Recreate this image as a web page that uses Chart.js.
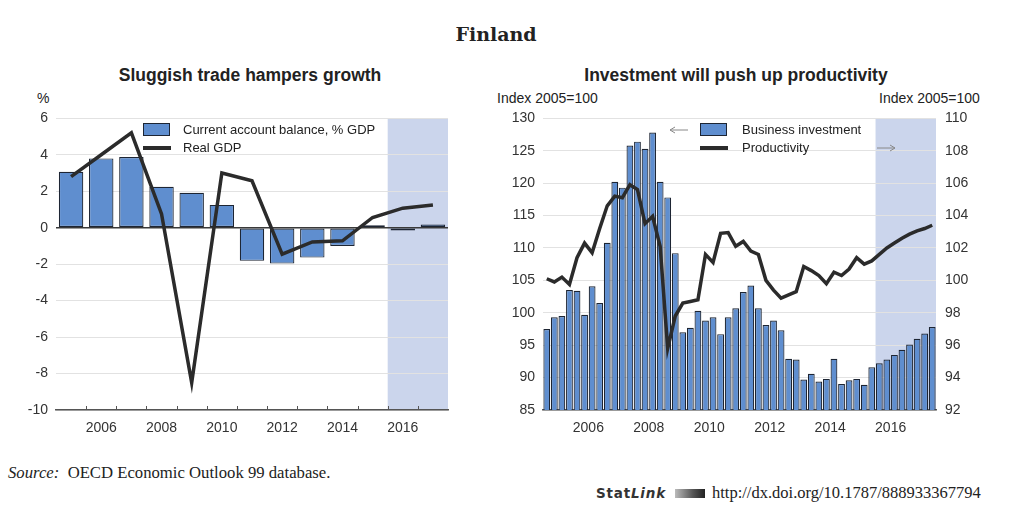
<!DOCTYPE html>
<html>
<head>
<meta charset="utf-8">
<script src="https://cdn.jsdelivr.net/npm/chart.js@4.4.0/dist/chart.umd.min.js"></script>
<style>
  body { margin: 0; width: 1020px; height: 523px; background: #fff; position: relative; overflow: hidden;
         font-family: "Liberation Sans", Arial, sans-serif; color: #222; }
  .abs { position: absolute; white-space: nowrap; }
  .panel-title { font-weight: bold; font-size: 17.5px; line-height: 20px; top: 65px; transform: translateX(-50%); }
  .unit { font-size: 14px; line-height: 16px; top: 90px; color: #222; }
  .legend-text { font-size: 13px; line-height: 16px; color: #222; }
  .swatch-box { position: absolute; width: 27px; height: 13px; background: #5f8ecf; border: 1px solid #1d2533; box-sizing: border-box; }
  .swatch-line { position: absolute; width: 28px; height: 4px; background: #2b2b2b; }
  svg.arrow { position: absolute; }
  canvas { position: absolute; }
</style>
</head>
<body>

<div class="abs" style="left:496px; top:21px; transform:translateX(-50%); font-family:'DejaVu Serif', serif; font-weight:bold; font-size:19px; line-height:26px;">Finland</div>

<div class="abs panel-title" style="left:250px;">Sluggish trade hampers growth</div>
<div class="abs panel-title" style="left:736px;">Investment will push up productivity</div>

<div class="abs unit" style="left:37px;">%</div>
<div class="abs unit" style="left:497px;">Index 2005=100</div>
<div class="abs unit" style="left:879px;">Index 2005=100</div>

<canvas id="tradeChart" width="470" height="350" style="left:0; top:90px;"></canvas>
<canvas id="investChart" width="510" height="350" style="left:490px; top:90px;"></canvas>

<!-- legends -->
<div class="swatch-box" style="left:143px; top:123px;"></div>
<div class="abs legend-text" style="left:183px; top:122px;">Current account balance, % GDP</div>
<div class="swatch-line" style="left:143px; top:146px;"></div>
<div class="abs legend-text" style="left:183px; top:140px;">Real GDP</div>

<svg class="arrow" width="20" height="8" style="left:669px; top:126px;">
  <path d="M1 4 H19 M1 4 L6 1 M1 4 L6 7" stroke="#888" stroke-width="1" fill="none"/>
</svg>
<div class="swatch-box" style="left:700px; top:123px;"></div>
<div class="abs legend-text" style="left:742px; top:122px;">Business investment</div>
<div class="swatch-line" style="left:700px; top:146px;"></div>
<div class="abs legend-text" style="left:742px; top:140px;">Productivity</div>
<svg class="arrow" width="20" height="8" style="left:876px; top:144px;">
  <path d="M1 4 H19 M19 4 L14 1 M19 4 L14 7" stroke="#888" stroke-width="1" fill="none"/>
</svg>

<div class="abs" style="left:8px; top:463px; font-family:'Liberation Serif', serif; font-size:16.7px; line-height:20px;"><i>Source:</i>&nbsp; OECD Economic Outlook 99 database.</div>
<div class="abs" style="left:596px; top:484px; font-family:'DejaVu Sans', sans-serif; font-size:13.5px; letter-spacing:0.8px; line-height:18px; font-weight:bold; color:#333;">Stat<i>Link</i></div>
<div class="abs" style="left:675px; top:489px; width:30px; height:9px; background:linear-gradient(90deg,#bbb,#555 60%,#222);"></div>
<div class="abs" style="left:712px; top:483px; font-family:'Liberation Serif', serif; font-size:16.5px; line-height:20px; color:#222;">http://dx.doi.org/10.1787/888933367794</div>

<script>
// ---------- left panel: Sluggish trade hampers growth ----------
const years = ['2005', '2006', '2007', '2008', '2009', '2010', '2011', '2012', '2013', '2014', '2015', '2016', '2017'];
const currentAccount = [3.07, 3.8, 3.88, 2.24, 1.92, 1.25, -1.82, -1.97, -1.64, -1.0, 0.14, -0.15, 0.18];
const realGdp = [2.8, 4.0, 5.2, 0.75, -8.5, 3.0, 2.57, -1.45, -0.78, -0.72, 0.56, 1.07, 1.24];
const projectionStart = '2016';

// ---------- right panel: Investment will push up productivity ----------
const quarters = years.flatMap(y => ['Q1', 'Q2', 'Q3', 'Q4'].map(q => y + '-' + q));
const businessInvestment = [
  97.5, 99.3, 99.5, 103.5, 103.4, 99.7, 104.1, 101.5,
  110.8, 120.2, 119.3, 125.8, 126.4, 125.3, 127.8, 120.2,
  117.8, 109.2, 97.0, 97.7, 100.3, 98.8, 99.3, 96.7,
  99.3, 100.7, 103.2, 104.2, 100.7, 98.1, 98.8, 97.3,
  92.9, 92.8, 89.7, 90.6, 89.4, 89.8, 92.9, 89.0,
  89.6, 89.8, 88.9, 91.6, 92.2, 92.8, 93.5, 94.3,
  95.1, 96.0, 96.8, 97.8
];
const productivity = [
  100.1, 99.9, 100.2, 99.75, 101.4, 102.3, 101.7, 103.2,
  104.6, 105.2, 105.1, 105.9, 105.6, 103.5, 103.95, 102.1,
  95.8, 97.8, 98.6, 98.7, 98.8, 101.6, 101.1, 102.9,
  102.95, 102.1, 102.4, 101.8, 101.6, 100.0, 99.4, 98.9,
  99.1, 99.3, 100.85, 100.6, 100.3, 99.8, 100.5, 100.3,
  100.7, 101.4, 101.0, 101.2, 101.6, 102.0, 102.3, 102.6,
  102.85, 103.05, 103.2, 103.4
];
const projectionStartQ = '2016-Q1';

const barBlue = '#5f8ecf';
const barEdge = '#1d2533';
const lineDark = '#2b2b2b';
const shadeBlue = '#cbd5ec';
const gridGrey = '#e2e2e2';
const tickFont = { family: '"Liberation Sans", Arial, sans-serif', size: 14 };

Chart.defaults.font.family = tickFont.family;
Chart.defaults.color = '#333';

// shaded projection period, from the category boundary to the right edge
const projectionShade = {
  id: 'projectionShade',
  beforeDraw(chart, args, opts) {
    const scale = chart.scales[opts.axis];
    const idx = scale.getLabels().indexOf(opts.from);
    const x0 = (scale.getPixelForValue(idx - 1) + scale.getPixelForValue(idx)) / 2;
    const area = chart.chartArea;
    const ctx = chart.ctx;
    ctx.save();
    ctx.fillStyle = opts.color;
    ctx.fillRect(x0, area.top, area.right - x0, area.bottom - area.top);
    ctx.restore();
  }
};

// small upward tick marks between years on the bottom axis
const yearTicks = {
  id: 'yearTicks',
  afterDatasetsDraw(chart, args, opts) {
    if (!opts.show) return;
    const scale = chart.scales.x;
    const ctx = chart.ctx;
    const bottom = chart.chartArea.bottom;
    ctx.save();
    ctx.strokeStyle = '#555';
    ctx.lineWidth = 1;
    for (let i = 1; i < scale.getLabels().length; i++) {
      const x = Math.round((scale.getPixelForValue(i - 1) + scale.getPixelForValue(i)) / 2) + 0.5;
      ctx.beginPath();
      ctx.moveTo(x, bottom);
      ctx.lineTo(x, bottom - 4);
      ctx.stroke();
    }
    ctx.restore();
  }
};

const evenYear = (labels) => function (value) {
  const lab = labels[value];
  return Number(lab) % 2 === 0 ? lab : '';
};

new Chart(document.getElementById('tradeChart').getContext('2d'), {
  type: 'bar',
  data: {
    labels: years,
    datasets: [
      {
        type: 'line',
        label: 'Real GDP',
        data: realGdp,
        borderColor: lineDark,
        borderWidth: 3.5,
        pointRadius: 0,
        tension: 0,
        order: 0
      },
      {
        label: 'Current account balance, % GDP',
        data: currentAccount,
        backgroundColor: barBlue,
        borderColor: barEdge,
        borderWidth: 1.2,
        borderSkipped: false,
        barPercentage: 0.81,
        categoryPercentage: 1,
        order: 1
      }
    ]
  },
  options: {
    responsive: false,
    animation: false,
    devicePixelRatio: 1,
    layout: { padding: { top: 28.3, right: 22, left: 0, bottom: 0 } },
    plugins: {
      legend: { display: false },
      tooltip: { enabled: false },
      projectionShade: { axis: 'x', from: projectionStart, color: shadeBlue },
      yearTicks: { show: true }
    },
    scales: {
      x: {
        offset: true,
        grid: { display: false, offset: true },
        border: { display: true, color: '#555', width: 1.5 },
        ticks: { font: tickFont, color: '#333', padding: 2, autoSkip: false, maxRotation: 0, callback: evenYear(years) },
        afterFit(scale) { scale.height = 30; }
      },
      y: {
        min: -10,
        max: 6,
        ticks: { stepSize: 2, font: tickFont, color: '#333', padding: 8 },
        grid: {
          drawTicks: false,
          color: ctx => ctx.tick.value === 0 ? '#3a3a3a' : gridGrey,
          lineWidth: ctx => ctx.tick.value === 0 ? 1.5 : 1
        },
        border: { display: false },
        afterFit(scale) { scale.width = 56; }
      }
    }
  },
  plugins: [projectionShade, yearTicks]
});

new Chart(document.getElementById('investChart').getContext('2d'), {
  type: 'bar',
  data: {
    datasets: [
      {
        type: 'line',
        label: 'Productivity',
        data: productivity,
        xAxisID: 'xq',
        yAxisID: 'y2',
        borderColor: lineDark,
        borderWidth: 3.5,
        pointRadius: 0,
        tension: 0,
        order: 0
      },
      {
        label: 'Business investment',
        data: businessInvestment,
        xAxisID: 'xq',
        yAxisID: 'y',
        backgroundColor: barBlue,
        borderColor: barEdge,
        borderWidth: 1.2,
        borderSkipped: false,
        barPercentage: 0.9,
        categoryPercentage: 1,
        order: 1
      }
    ]
  },
  options: {
    responsive: false,
    animation: false,
    devicePixelRatio: 1,
    layout: { padding: { top: 28.3, right: 0, left: 0, bottom: 0 } },
    plugins: {
      legend: { display: false },
      tooltip: { enabled: false },
      projectionShade: { axis: 'xq', from: projectionStartQ, color: shadeBlue },
      yearTicks: { show: false }
    },
    scales: {
      x: {
        type: 'category',
        labels: years,
        offset: true,
        grid: { display: false, offset: true },
        border: { display: true, color: '#555', width: 1.5 },
        ticks: { font: tickFont, color: '#333', padding: 2, autoSkip: false, maxRotation: 0, callback: evenYear(years) },
        afterFit(scale) { scale.height = 30; }
      },
      xq: {
        type: 'category',
        labels: quarters,
        offset: true,
        display: false
      },
      y: {
        position: 'left',
        min: 85,
        max: 130,
        ticks: { stepSize: 5, font: tickFont, color: '#333', padding: 8 },
        grid: { drawTicks: false, color: gridGrey },
        border: { display: false },
        afterFit(scale) { scale.width = 53; }
      },
      y2: {
        position: 'right',
        min: 92,
        max: 110,
        ticks: { stepSize: 2, font: tickFont, color: '#333', padding: 9 },
        grid: { display: false, drawTicks: false },
        border: { display: false },
        afterFit(scale) { scale.width = 64; }
      }
    }
  },
  plugins: [projectionShade, yearTicks]
});
</script>
</body>
</html>
